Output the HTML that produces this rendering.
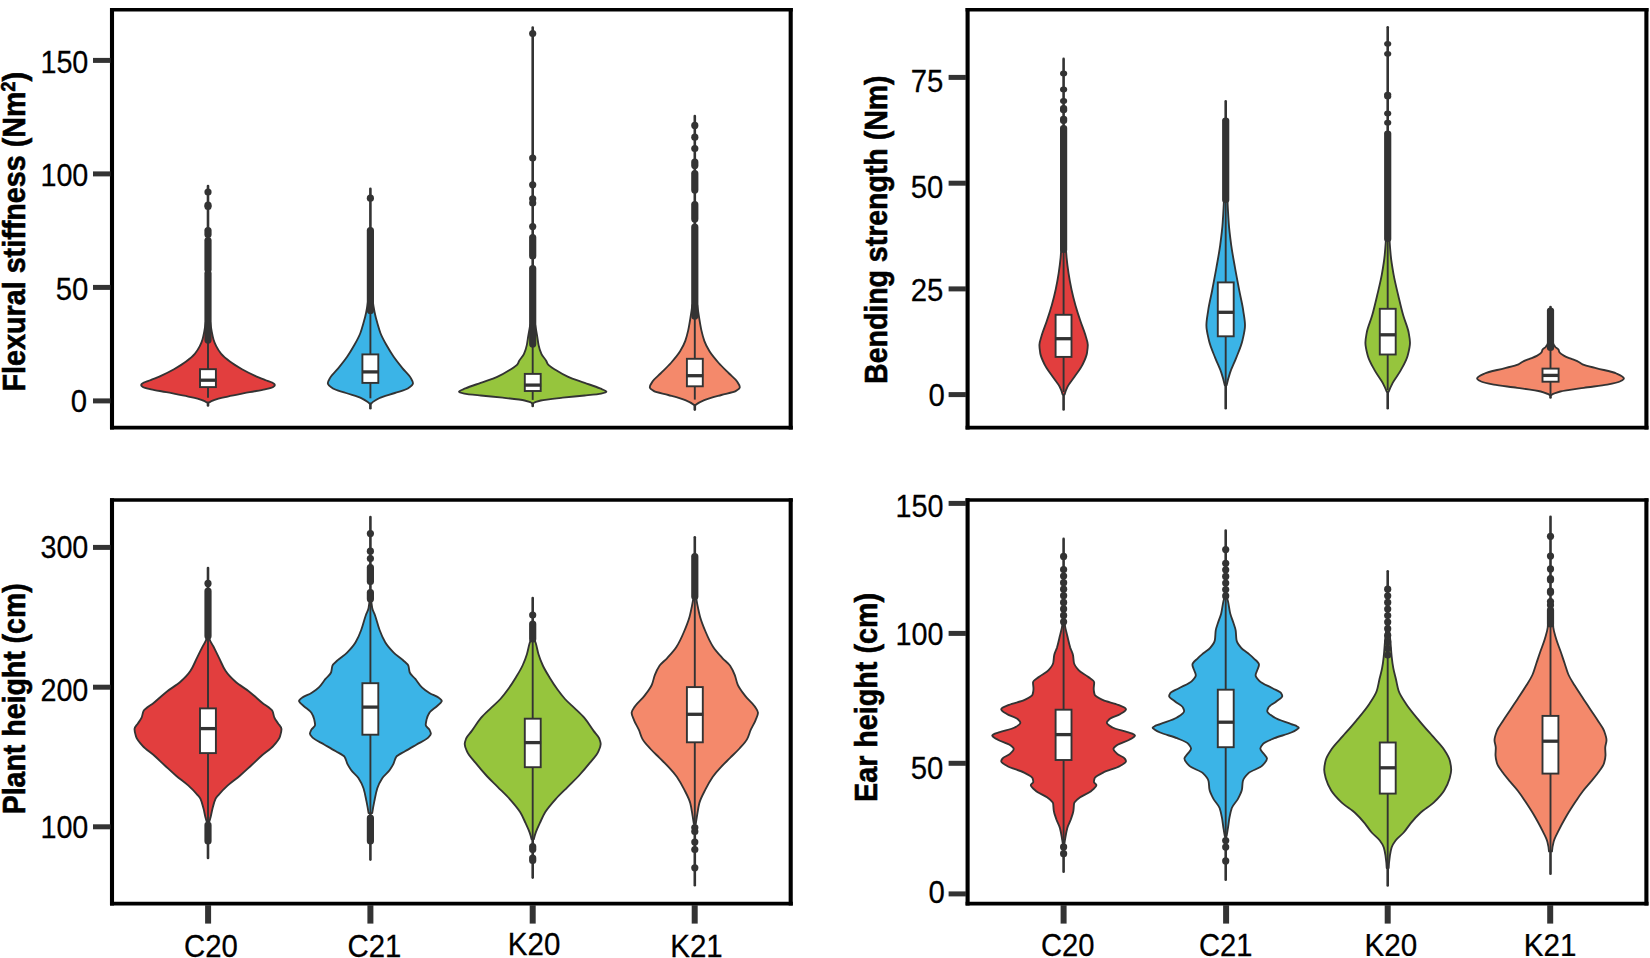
<!DOCTYPE html>
<html lang="en"><head><meta charset="utf-8"><title>Violin plots</title>
<style>
html,body{margin:0;padding:0;background:#fff;}
body{width:1650px;height:958px;overflow:hidden;}
svg{display:block;}
.tk{font-family:"Liberation Sans",Arial,Helvetica,sans-serif;fill:#000;stroke:#000;stroke-width:0.25px;}
.tt{font-family:"Liberation Sans",Arial,Helvetica,sans-serif;font-size:31.5px;font-weight:700;fill:#000;stroke:#000;stroke-width:0.6px;}
</style></head>
<body>
<svg width="1650" height="958" viewBox="0 0 1650 958">
<rect width="1650" height="958" fill="#fff"/>
<g>
<g><line x1="208" y1="186" x2="208" y2="405.5" stroke="#333333" stroke-width="2.6" stroke-linecap="round"/>
<path d="M210.2 322C210.6 325.3 211.2 328.6 211.8 331.9C212.3 334.5 212.8 337 213.5 339.6C214.1 341.8 215.1 344 216.2 346.2C217.5 348.8 219.1 351.3 221.2 353.9C223.3 356.4 226.5 359 229.9 361.5C233.3 364.1 237.5 366.6 242 369.2C245.9 371.4 250.3 373.6 255.1 375.8C258.5 377.4 262.5 378.9 266.5 380.5C268.5 381.3 271.5 382 272.6 382.8C273.7 383.5 274.9 384.3 274.9 385C274.9 385.7 273.9 386.5 272.8 387.2C271.7 387.9 268 388.6 265 389.3C260.8 390.3 254.7 391.2 249.7 392.2C242.2 393.7 234.2 395.1 227.7 396.6C222.9 397.7 217.6 398.8 214.6 399.9C212.3 400.7 210.3 401.6 209.2 402.4L206.8 402.4C205.7 401.6 203.7 400.7 201.4 399.9C198.4 398.8 193.1 397.7 188.3 396.6C181.8 395.1 173.8 393.7 166.3 392.2C161.3 391.2 155.2 390.3 151 389.3C148 388.6 144.3 387.9 143.2 387.2C142.1 386.5 141.1 385.7 141.1 385C141.1 384.3 142.3 383.5 143.4 382.8C144.5 382 147.5 381.3 149.5 380.5C153.5 378.9 157.5 377.4 160.9 375.8C165.7 373.6 170.1 371.4 174 369.2C178.5 366.6 182.7 364.1 186.1 361.5C189.5 359 192.7 356.4 194.8 353.9C196.9 351.3 198.5 348.8 199.8 346.2C200.9 344 201.9 341.8 202.5 339.6C203.2 337 203.7 334.5 204.2 331.9C204.8 328.6 205.4 325.3 205.8 322Z" fill="#E23E3E" stroke="#333333" stroke-width="1.85" stroke-linejoin="round"/>
<line x1="208" y1="322" x2="208" y2="397.7" stroke="#333333" stroke-width="1.9"/>
<ellipse cx="208" cy="192" rx="3.6" ry="3.6" fill="#333333"/>
<ellipse cx="208" cy="205" rx="3.6" ry="3.6" fill="#333333"/>
<ellipse cx="208" cy="206.5" rx="3.6" ry="3.6" fill="#333333"/>
<rect x="204.4" y="226.9" width="7.2" height="11.2" rx="3.6" ry="3.6" fill="#333333"/>
<rect x="204.4" y="236.9" width="7.2" height="36.2" rx="3.6" ry="3.6" fill="#333333"/>
<rect x="204.4" y="269.9" width="7.2" height="73.7" rx="3.6" ry="3.6" fill="#333333"/>
<rect x="200" y="369.2" width="15.9" height="17.9" fill="#fff" stroke="#333333" stroke-width="1.9"/>
<line x1="199.6" y1="380.2" x2="216.4" y2="380.2" stroke="#333333" stroke-width="3.3"/></g>
<g><line x1="370.4" y1="188.8" x2="370.4" y2="408.3" stroke="#333333" stroke-width="2.6" stroke-linecap="round"/>
<path d="M372.6 300C373.1 304.1 373.8 308.1 374.6 312.2C375.3 315.7 376.2 319.1 377.2 322.6C378.2 326.1 379.1 329.5 380.4 333C381.9 336.9 384.1 340.9 386.3 344.8C388.5 348.7 390.8 352.6 393.5 356.5C396.2 360.4 399.4 364.4 402.6 368.3C405.1 371.3 408.7 374.4 410.4 377.4C411.5 379.4 413 381.3 413 383.3C413 385 410.4 386.8 407.8 388.5C405.5 390 399.2 391.5 394.8 393C389.6 394.8 382.6 396.5 379.1 398.3C375.7 400 372.7 401.8 371.4 403.5L369.4 403.5C368.1 401.8 365.1 400 361.7 398.3C358.2 396.5 351.2 394.8 346 393C341.6 391.5 335.3 390 333 388.5C330.4 386.8 327.8 385 327.8 383.3C327.8 381.3 329.3 379.4 330.4 377.4C332.1 374.4 335.7 371.3 338.2 368.3C341.4 364.4 344.6 360.4 347.3 356.5C350 352.6 352.3 348.7 354.5 344.8C356.7 340.9 358.9 336.9 360.4 333C361.7 329.5 362.6 326.1 363.6 322.6C364.6 319.1 365.5 315.7 366.2 312.2C367 308.1 367.7 304.1 368.2 300Z" fill="#3BB4E7" stroke="#333333" stroke-width="1.85" stroke-linejoin="round"/>
<line x1="370.4" y1="300" x2="370.4" y2="398.3" stroke="#333333" stroke-width="1.9"/>
<ellipse cx="370.4" cy="198.2" rx="3.6" ry="3.6" fill="#333333"/>
<rect x="366.8" y="226.9" width="7.2" height="87.2" rx="3.6" ry="3.6" fill="#333333"/>
<rect x="362.4" y="354.4" width="15.9" height="28.5" fill="#fff" stroke="#333333" stroke-width="1.9"/>
<line x1="362" y1="371.9" x2="378.8" y2="371.9" stroke="#333333" stroke-width="3.3"/></g>
<g><line x1="532.7" y1="27.6" x2="532.7" y2="406" stroke="#333333" stroke-width="2.6" stroke-linecap="round"/>
<path d="M535.2 325C535.8 328.4 536.4 331.8 537 335.2C537.6 338.5 537.9 341.8 538.6 345.1C539.2 348 540.1 351 541.4 353.9C542.4 356.3 545 358.6 546.3 361C546.9 362.1 547.1 363.2 547.9 364.3C549.3 366.3 553.1 368.3 556.2 370.3C559.6 372.5 563.4 374.7 568.2 376.9C572.6 378.9 579.2 380.9 584.7 382.9C589.8 384.7 595.9 386.6 600 388.4C602.5 389.5 606.4 390.6 606.4 391.7C606.4 392.3 603.8 393 601.1 393.6C598.4 394.2 590.6 394.9 584.7 395.5C577.9 396.2 569.2 397 562.7 397.7C554.5 398.6 544.5 399.6 540.8 400.5C537.3 401.4 533.8 402.3 533.7 403.2L531.7 403.2C531.6 402.3 528.1 401.4 524.6 400.5C520.9 399.6 510.9 398.6 502.7 397.7C496.2 397 487.5 396.2 480.7 395.5C474.8 394.9 467 394.2 464.3 393.6C461.6 393 459 392.3 459 391.7C459 390.6 462.9 389.5 465.4 388.4C469.5 386.6 475.6 384.7 480.7 382.9C486.2 380.9 492.8 378.9 497.2 376.9C502 374.7 505.8 372.5 509.2 370.3C512.3 368.3 516.1 366.3 517.5 364.3C518.3 363.2 518.5 362.1 519.1 361C520.4 358.6 523 356.3 524 353.9C525.3 351 526.2 348 526.8 345.1C527.5 341.8 527.8 338.5 528.4 335.2C529 331.8 529.6 328.4 530.2 325Z" fill="#96C53D" stroke="#333333" stroke-width="1.85" stroke-linejoin="round"/>
<line x1="532.7" y1="325" x2="532.7" y2="399.9" stroke="#333333" stroke-width="1.9"/>
<ellipse cx="532.7" cy="33.5" rx="3.6" ry="3.6" fill="#333333"/>
<ellipse cx="532.7" cy="158" rx="3.6" ry="3.6" fill="#333333"/>
<ellipse cx="532.7" cy="184.8" rx="3.6" ry="3.6" fill="#333333"/>
<ellipse cx="532.7" cy="198.8" rx="3.6" ry="3.6" fill="#333333"/>
<ellipse cx="532.7" cy="203" rx="3.6" ry="3.6" fill="#333333"/>
<ellipse cx="532.7" cy="226.6" rx="3.6" ry="3.6" fill="#333333"/>
<rect x="529.1" y="233.9" width="7.2" height="25.7" rx="3.6" ry="3.6" fill="#333333"/>
<rect x="529.1" y="264.9" width="7.2" height="82.7" rx="3.6" ry="3.6" fill="#333333"/>
<rect x="524.8" y="373.9" width="15.9" height="17.1" fill="#fff" stroke="#333333" stroke-width="1.9"/>
<line x1="524.3" y1="385.1" x2="541.1" y2="385.1" stroke="#333333" stroke-width="3.3"/></g>
<g><line x1="694.8" y1="116" x2="694.8" y2="409.6" stroke="#333333" stroke-width="2.6" stroke-linecap="round"/>
<path d="M697.3 305C697.8 309.1 698.4 313.3 699.1 317.4C699.8 321.7 700.5 326.1 701.4 330.4C702.2 333.9 703.1 337.4 704.3 340.9C705.5 344.4 707.4 347.8 709.5 351.3C711.9 355.2 715.3 359.1 718.7 363C721.8 366.5 725.6 370 729.1 373.5C731.7 376.1 735.2 378.7 736.9 381.3C738.2 383.3 739.8 385.2 739.8 387.2C739.8 388.5 737.8 389.8 735.6 391.1C733.4 392.4 725.8 393.7 721.3 395C715.3 396.7 708.4 398.5 704.3 400.2C700.7 401.7 697.6 403.3 695.8 404.8L693.8 404.8C692 403.3 688.9 401.7 685.3 400.2C681.2 398.5 674.3 396.7 668.3 395C663.8 393.7 656.2 392.4 654 391.1C651.8 389.8 649.8 388.5 649.8 387.2C649.8 385.2 651.4 383.3 652.7 381.3C654.4 378.7 657.9 376.1 660.5 373.5C664 370 667.8 366.5 670.9 363C674.3 359.1 677.7 355.2 680.1 351.3C682.2 347.8 684.1 344.4 685.3 340.9C686.5 337.4 687.4 333.9 688.2 330.4C689.1 326.1 689.8 321.7 690.5 317.4C691.2 313.3 691.8 309.1 692.3 305Z" fill="#F4896B" stroke="#333333" stroke-width="1.85" stroke-linejoin="round"/>
<line x1="694.8" y1="305" x2="694.8" y2="399.6" stroke="#333333" stroke-width="1.9"/>
<ellipse cx="694.8" cy="125.4" rx="3.6" ry="3.6" fill="#333333"/>
<ellipse cx="694.8" cy="137.2" rx="3.6" ry="3.6" fill="#333333"/>
<ellipse cx="694.8" cy="148.5" rx="3.6" ry="3.6" fill="#333333"/>
<rect x="691.2" y="158.4" width="7.2" height="10.7" rx="3.6" ry="3.6" fill="#333333"/>
<rect x="691.2" y="169.9" width="7.2" height="23.7" rx="3.6" ry="3.6" fill="#333333"/>
<rect x="691.2" y="200.9" width="7.2" height="21.7" rx="3.6" ry="3.6" fill="#333333"/>
<rect x="691.2" y="223.4" width="7.2" height="96.2" rx="3.6" ry="3.6" fill="#333333"/>
<rect x="686.9" y="358.8" width="15.9" height="27.5" fill="#fff" stroke="#333333" stroke-width="1.9"/>
<line x1="686.4" y1="375.7" x2="703.2" y2="375.7" stroke="#333333" stroke-width="3.3"/></g>
<path d="M112 7.9V429.4M790.7 7.9V429.4" fill="none" stroke="#000" stroke-width="4.1"/>
<path d="M110 9.7H792.8M110 427.6H792.8" fill="none" stroke="#000" stroke-width="3.6"/>
<line x1="93" y1="60.4" x2="110.5" y2="60.4" stroke="#333333" stroke-width="5"/>
<text class="tk" font-size="30.5" transform="translate(40.4 73.2) scale(0.943 1)">150</text>
<line x1="93" y1="173.9" x2="110.5" y2="173.9" stroke="#333333" stroke-width="5"/>
<text class="tk" font-size="30.5" transform="translate(40.4 186.3) scale(0.943 1)">100</text>
<line x1="93" y1="287.4" x2="110.5" y2="287.4" stroke="#333333" stroke-width="5"/>
<text class="tk" font-size="30.5" transform="translate(55.7 299.7) scale(0.962 1)">50</text>
<line x1="93" y1="400.9" x2="110.5" y2="400.9" stroke="#333333" stroke-width="5"/>
<text class="tk" font-size="30.5" transform="translate(70.8 411.6) scale(0.962 1)">0</text>
<text class="tt" transform="translate(24.9 391.5) rotate(-90)" textLength="319.6" lengthAdjust="spacingAndGlyphs">Flexural stiffness (Nm<tspan dy="-10.4" font-size="19.5">2</tspan><tspan dy="10.4">)</tspan></text>
</g>
<g>
<g><line x1="1063.6" y1="58.9" x2="1063.6" y2="409.5" stroke="#333333" stroke-width="2.6" stroke-linecap="round"/>
<path d="M1065.4 240C1065.6 245.9 1066.1 251.9 1066.6 257.8C1067.1 263.1 1067.8 268.3 1068.6 273.6C1069.4 278.9 1070.4 284.2 1071.5 289.5C1072.6 294.8 1074 300.1 1075.5 305.4C1077 310.7 1078.7 315.9 1080.5 321.2C1082 325.8 1084.1 330.5 1085.4 335.1C1086.3 338.4 1087.8 341.7 1087.8 345C1087.8 347.7 1087.4 350.3 1087 353C1086.4 357 1084.3 360.9 1082.4 364.9C1080.5 368.9 1077.2 372.8 1074.5 376.8C1072.3 380.1 1069.2 383.4 1067.6 386.7C1066.3 389.3 1065.2 392 1064.6 394.6L1062.6 394.6C1062 392 1060.9 389.3 1059.6 386.7C1058 383.4 1054.9 380.1 1052.7 376.8C1050 372.8 1046.7 368.9 1044.8 364.9C1042.9 360.9 1040.8 357 1040.2 353C1039.8 350.3 1039.4 347.7 1039.4 345C1039.4 341.7 1040.9 338.4 1041.8 335.1C1043.1 330.5 1045.2 325.8 1046.7 321.2C1048.5 315.9 1050.2 310.7 1051.7 305.4C1053.2 300.1 1054.6 294.8 1055.7 289.5C1056.8 284.2 1057.8 278.9 1058.6 273.6C1059.4 268.3 1060.1 263.1 1060.6 257.8C1061.1 251.9 1061.6 245.9 1061.8 240Z" fill="#E23E3E" stroke="#333333" stroke-width="1.85" stroke-linejoin="round"/>
<line x1="1063.6" y1="240" x2="1063.6" y2="392" stroke="#333333" stroke-width="1.9"/>
<ellipse cx="1063.6" cy="73.4" rx="3.6" ry="2.9" fill="#333333"/>
<ellipse cx="1063.6" cy="89.4" rx="3.6" ry="2.9" fill="#333333"/>
<ellipse cx="1063.6" cy="100.9" rx="3.6" ry="2.9" fill="#333333"/>
<rect x="1060" y="105" width="7.2" height="8.2" rx="3.6" ry="2.9" fill="#333333"/>
<rect x="1060" y="115.7" width="7.2" height="8.2" rx="3.6" ry="2.9" fill="#333333"/>
<rect x="1060" y="125" width="7.2" height="127.9" rx="3.6" ry="2.9" fill="#333333"/>
<rect x="1055.6" y="314.8" width="15.9" height="42.1" fill="#fff" stroke="#333333" stroke-width="1.9"/>
<line x1="1055.2" y1="338.7" x2="1072" y2="338.7" stroke="#333333" stroke-width="3.3"/></g>
<g><line x1="1225.7" y1="101.4" x2="1225.7" y2="408.2" stroke="#333333" stroke-width="2.6" stroke-linecap="round"/>
<path d="M1227.5 200C1227.7 207.5 1228.2 215.1 1228.7 222.6C1229.2 230.1 1230.2 237.6 1231.2 245.1C1232.2 252.6 1233.7 260.2 1235 267.7C1236.3 275.2 1237.8 282.7 1239.2 290.2C1240.5 296.9 1242.2 303.6 1243.2 310.3C1243.9 315.3 1245 320.3 1245 325.3C1245 330.3 1243.6 335.3 1242.5 340.3C1241.2 346.2 1238.5 352 1236.2 357.9C1234.3 362.9 1231.6 367.9 1230 372.9C1228.6 377.1 1227.5 381.2 1226.6 385.4L1224.8 385.4C1223.9 381.2 1222.8 377.1 1221.4 372.9C1219.8 367.9 1217.1 362.9 1215.2 357.9C1212.9 352 1210.2 346.2 1208.9 340.3C1207.8 335.3 1206.4 330.3 1206.4 325.3C1206.4 320.3 1207.5 315.3 1208.2 310.3C1209.2 303.6 1210.9 296.9 1212.2 290.2C1213.6 282.7 1215.1 275.2 1216.4 267.7C1217.7 260.2 1219.2 252.6 1220.2 245.1C1221.2 237.6 1222.2 230.1 1222.7 222.6C1223.2 215.1 1223.7 207.5 1223.9 200Z" fill="#3BB4E7" stroke="#333333" stroke-width="1.85" stroke-linejoin="round"/>
<line x1="1225.7" y1="200" x2="1225.7" y2="385" stroke="#333333" stroke-width="1.9"/>
<rect x="1222.1" y="117.6" width="7.2" height="85.3" rx="3.6" ry="2.9" fill="#333333"/>
<rect x="1217.8" y="282.4" width="15.9" height="53.9" fill="#fff" stroke="#333333" stroke-width="1.9"/>
<line x1="1217.3" y1="312.3" x2="1234.1" y2="312.3" stroke="#333333" stroke-width="3.3"/></g>
<g><line x1="1387.7" y1="27.3" x2="1387.7" y2="408.2" stroke="#333333" stroke-width="2.6" stroke-linecap="round"/>
<path d="M1389.3 235C1389.5 241.7 1390.1 248.5 1390.7 255.2C1391.3 261.9 1392.5 268.5 1393.7 275.2C1394.9 281.9 1396.6 288.5 1398.2 295.2C1399.8 301.9 1401.3 308.6 1403.2 315.3C1404.8 321.1 1407.7 327 1408.7 332.8C1409.3 336.1 1410 339.5 1410 342.8C1410 347 1408.8 351.2 1407.7 355.4C1406.4 360.4 1403.4 365.4 1400.7 370.4C1398.4 374.6 1394.9 378.7 1392.7 382.9C1391.2 385.8 1389.8 388.8 1388.7 391.7L1386.7 391.7C1385.6 388.8 1384.2 385.8 1382.7 382.9C1380.5 378.7 1377 374.6 1374.7 370.4C1372 365.4 1369 360.4 1367.7 355.4C1366.6 351.2 1365.4 347 1365.4 342.8C1365.4 339.5 1366.1 336.1 1366.7 332.8C1367.7 327 1370.6 321.1 1372.2 315.3C1374.1 308.6 1375.6 301.9 1377.2 295.2C1378.8 288.5 1380.5 281.9 1381.7 275.2C1382.9 268.5 1384.1 261.9 1384.7 255.2C1385.3 248.5 1385.9 241.7 1386.1 235Z" fill="#96C53D" stroke="#333333" stroke-width="1.85" stroke-linejoin="round"/>
<line x1="1387.7" y1="235" x2="1387.7" y2="390" stroke="#333333" stroke-width="1.9"/>
<ellipse cx="1387.7" cy="43.8" rx="3.6" ry="2.9" fill="#333333"/>
<ellipse cx="1387.7" cy="53.8" rx="3.6" ry="2.9" fill="#333333"/>
<ellipse cx="1387.7" cy="94.6" rx="3.6" ry="2.9" fill="#333333"/>
<ellipse cx="1387.7" cy="96.4" rx="3.6" ry="2.9" fill="#333333"/>
<ellipse cx="1387.7" cy="113.4" rx="3.6" ry="2.9" fill="#333333"/>
<ellipse cx="1387.7" cy="122.7" rx="3.6" ry="2.9" fill="#333333"/>
<rect x="1384.1" y="130.6" width="7.2" height="111.3" rx="3.6" ry="2.9" fill="#333333"/>
<rect x="1379.8" y="308.8" width="15.9" height="45.7" fill="#fff" stroke="#333333" stroke-width="1.9"/>
<line x1="1379.3" y1="334.8" x2="1396.1" y2="334.8" stroke="#333333" stroke-width="3.3"/></g>
<g><line x1="1550.5" y1="307" x2="1550.5" y2="397.5" stroke="#333333" stroke-width="2.6" stroke-linecap="round"/>
<path d="M1553 343C1553.2 344.2 1554.1 345.5 1555.1 346.7C1555.8 347.6 1557.8 348.4 1558.3 349.3C1559 350.4 1558.9 351.5 1559.6 352.6C1560.3 353.7 1562.2 354.8 1564.2 355.9C1566.1 357 1569.3 358 1572 359.1C1573.7 359.8 1575.8 360.4 1577.2 361.1C1579.4 362.2 1580.1 363.2 1582.5 364.3C1585.5 365.6 1591.9 367 1596.8 368.3C1603.2 370 1612.6 371.8 1616.4 373.5C1619.9 375.1 1623.9 376.8 1623.9 378.4C1623.9 379.4 1622.1 380.3 1620.3 381.3C1618.2 382.4 1612.9 383.5 1607.2 384.6C1601.7 385.7 1591.1 386.7 1583.8 387.8C1575.4 389 1564.7 390.3 1560.3 391.5C1556.1 392.7 1552.3 393.8 1551.5 395L1549.5 395C1548.7 393.8 1544.9 392.7 1540.7 391.5C1536.3 390.3 1525.6 389 1517.2 387.8C1509.9 386.7 1499.3 385.7 1493.8 384.6C1488.1 383.5 1482.8 382.4 1480.7 381.3C1478.9 380.3 1477.1 379.4 1477.1 378.4C1477.1 376.8 1481.1 375.1 1484.6 373.5C1488.4 371.8 1497.8 370 1504.2 368.3C1509.1 367 1515.5 365.6 1518.5 364.3C1520.9 363.2 1521.6 362.2 1523.8 361.1C1525.2 360.4 1527.3 359.8 1529 359.1C1531.7 358 1534.9 357 1536.8 355.9C1538.8 354.8 1540.7 353.7 1541.4 352.6C1542.1 351.5 1542 350.4 1542.7 349.3C1543.2 348.4 1545.2 347.6 1545.9 346.7C1546.9 345.5 1547.8 344.2 1548 343Z" fill="#F4896B" stroke="#333333" stroke-width="1.85" stroke-linejoin="round"/>
<line x1="1550.5" y1="343" x2="1550.5" y2="394" stroke="#333333" stroke-width="1.9"/>
<rect x="1546.9" y="307.6" width="7.2" height="43.3" rx="3.6" ry="2.9" fill="#333333"/>
<rect x="1542.5" y="368.6" width="16.1" height="13.1" fill="#fff" stroke="#333333" stroke-width="1.9"/>
<line x1="1542" y1="375.4" x2="1559" y2="375.4" stroke="#333333" stroke-width="3.3"/></g>
<path d="M967.6 7.9V429.4M1646.4 7.9V429.4" fill="none" stroke="#000" stroke-width="4.1"/>
<path d="M965.6 9.7H1648.5M965.6 427.6H1648.5" fill="none" stroke="#000" stroke-width="3.6"/>
<line x1="948.6" y1="77.4" x2="966.1" y2="77.4" stroke="#333333" stroke-width="5"/>
<text class="tk" font-size="30.5" transform="translate(910.8 91.8) scale(0.962 1)">75</text>
<line x1="948.6" y1="183.2" x2="966.1" y2="183.2" stroke="#333333" stroke-width="5"/>
<text class="tk" font-size="30.5" transform="translate(910.8 198) scale(0.962 1)">50</text>
<line x1="948.6" y1="288.9" x2="966.1" y2="288.9" stroke="#333333" stroke-width="5"/>
<text class="tk" font-size="30.5" transform="translate(910.8 301.4) scale(0.962 1)">25</text>
<line x1="948.6" y1="394.6" x2="966.1" y2="394.6" stroke="#333333" stroke-width="5"/>
<text class="tk" font-size="30.5" transform="translate(928.4 405.5) scale(0.962 1)">0</text>
<text class="tt" transform="translate(887 383.9) rotate(-90)" textLength="308.4" lengthAdjust="spacingAndGlyphs">Bending strength (Nm)</text>
</g>
<g>
<g><line x1="208" y1="568" x2="208" y2="858" stroke="#333333" stroke-width="2.6" stroke-linecap="round"/>
<path d="M208.9 634C208.9 635.6 209.2 637.2 209.5 638.8C210 641.3 212 643.8 213.3 646.3C215.2 650.1 217 653.8 218.9 657.6C221.1 662 222.6 666.4 225.5 670.8C227.9 674.5 231.6 678.3 235.8 682C239.3 685.1 245 688.3 249 691.4C253.8 695.2 257.6 698.9 262.1 702.7C265.5 705.5 271.2 708.4 272.5 711.2C273.5 713.4 273.5 715.5 274.4 717.7C275.2 719.6 276.9 721.5 278.1 723.4C279.3 725.3 281.5 727.1 281.5 729C281.5 731.5 280.8 734 280 736.5C279 739.6 276.2 742.8 273.4 745.9C270.6 749 265.7 752.2 262.1 755.3C258.2 758.8 254.7 762.2 250.9 765.7C247.2 769.1 243.6 772.6 239.6 776C235.9 779.1 231.2 782.3 227.8 785.4C224.4 788.5 221.3 791.7 218.6 794.8C217.5 796.1 216.1 797.5 215.5 798.8C213.9 802.2 213.3 805.5 212.4 808.9C211.7 811.8 211.2 814.7 210.5 817.6C210.1 819.1 209.7 820.5 209.2 822L206.8 822C206.3 820.5 205.9 819.1 205.5 817.6C204.8 814.7 204.3 811.8 203.6 808.9C202.7 805.5 202.1 802.2 200.5 798.8C199.9 797.5 198.5 796.1 197.4 794.8C194.7 791.7 191.6 788.5 188.2 785.4C184.8 782.3 180.1 779.1 176.4 776C172.4 772.6 168.8 769.1 165.1 765.7C161.3 762.2 157.8 758.8 153.9 755.3C150.3 752.2 145.4 749 142.6 745.9C139.8 742.8 137 739.6 136 736.5C135.2 734 134.5 731.5 134.5 729C134.5 727.1 136.7 725.3 137.9 723.4C139.1 721.5 140.8 719.6 141.6 717.7C142.5 715.5 142.5 713.4 143.5 711.2C144.8 708.4 150.5 705.5 153.9 702.7C158.4 698.9 162.2 695.2 167 691.4C171 688.3 176.7 685.1 180.2 682C184.4 678.3 188.1 674.5 190.5 670.8C193.4 666.4 194.9 662 197.1 657.6C199 653.8 200.8 650.1 202.7 646.3C204 643.8 206 641.3 206.5 638.8C206.8 637.2 207.1 635.6 207.1 634Z" fill="#E23E3E" stroke="#333333" stroke-width="1.85" stroke-linejoin="round"/>
<line x1="208" y1="634" x2="208" y2="822" stroke="#333333" stroke-width="1.9"/>
<ellipse cx="208" cy="583.4" rx="3.6" ry="3.6" fill="#333333"/>
<rect x="204.4" y="587.4" width="7.2" height="52.2" rx="3.6" ry="3.6" fill="#333333"/>
<rect x="204.4" y="821.4" width="7.2" height="23.2" rx="3.6" ry="3.6" fill="#333333"/>
<rect x="200" y="708.4" width="15.9" height="44.7" fill="#fff" stroke="#333333" stroke-width="1.9"/>
<line x1="199.6" y1="728.6" x2="216.4" y2="728.6" stroke="#333333" stroke-width="3.3"/></g>
<g><line x1="370.4" y1="517.1" x2="370.4" y2="859.6" stroke="#333333" stroke-width="2.6" stroke-linecap="round"/>
<path d="M371.3 600C371.3 602.7 371.7 605.3 372.2 608C372.6 610.3 374.1 612.7 374.9 615C376.7 620 377.7 625 379.6 630C381.1 634.1 382.8 638.2 385.2 642.3C387.2 645.7 390.3 649.2 393.7 652.6C396.2 655.1 400.4 657.7 403.1 660.2C405.1 662.1 407.8 663.9 408.4 665.8C409.1 668 409 670.2 409.7 672.4C410.4 674.6 413.5 676.7 415.3 678.9C417.6 681.7 419.1 684.6 421.9 687.4C423.8 689.3 426.4 691.1 429.4 693C431.9 694.6 436.7 696.1 438.8 697.7C439.8 698.4 440.6 699.1 441.1 699.8C441.4 700.2 441.8 700.7 441.8 701.1C441.8 701.6 441.2 702.1 440.8 702.6C439.8 703.8 438.2 705 436.9 706.2C434.5 708.4 430.8 710.6 429.4 712.8C428 715 427.1 717.2 426.6 719.4C426.2 721.3 425.7 723.1 425.7 725C425.7 726.6 428.6 728.1 429.4 729.7C430.1 731.1 430.9 732.4 430.9 733.8C430.9 735.3 429 736.7 427.5 738.2C425.2 740.4 420 742.5 416.3 744.7C412.5 746.9 408.6 749.1 405 751.3C402 753.1 397.5 755 396.3 756.8C394.7 759.2 394.5 761.7 393.3 764.1C392.3 766.1 391.1 768 389.7 770C387.8 772.7 384.1 775.3 382.4 778C380.2 781.4 378.4 784.8 377.3 788.2C375.9 792.6 375.2 797 374.3 801.4C373.5 805.3 372.8 809.2 372.2 813.1L368.6 813.1C368 809.2 367.3 805.3 366.5 801.4C365.6 797 364.9 792.6 363.5 788.2C362.4 784.8 360.6 781.4 358.4 778C356.7 775.3 353 772.7 351.1 770C349.7 768 348.5 766.1 347.5 764.1C346.3 761.7 346.1 759.2 344.5 756.8C343.3 755 338.8 753.1 335.8 751.3C332.2 749.1 328.3 746.9 324.5 744.7C320.8 742.5 315.6 740.4 313.3 738.2C311.8 736.7 309.9 735.3 309.9 733.8C309.9 732.4 310.7 731.1 311.4 729.7C312.2 728.1 315.1 726.6 315.1 725C315.1 723.1 314.6 721.3 314.2 719.4C313.7 717.2 312.8 715 311.4 712.8C310 710.6 306.3 708.4 303.9 706.2C302.6 705 301 703.8 300 702.6C299.6 702.1 299 701.6 299 701.1C299 700.7 299.4 700.2 299.7 699.8C300.2 699.1 301 698.4 302 697.7C304.1 696.1 308.9 694.6 311.4 693C314.4 691.1 317 689.3 318.9 687.4C321.7 684.6 323.2 681.7 325.5 678.9C327.3 676.7 330.4 674.6 331.1 672.4C331.8 670.2 331.7 668 332.4 665.8C333 663.9 335.7 662.1 337.7 660.2C340.4 657.7 344.6 655.1 347.1 652.6C350.5 649.2 353.6 645.7 355.6 642.3C358 638.2 359.7 634.1 361.2 630C363.1 625 364.1 620 365.9 615C366.7 612.7 368.2 610.3 368.6 608C369.1 605.3 369.5 602.7 369.5 600Z" fill="#3BB4E7" stroke="#333333" stroke-width="1.85" stroke-linejoin="round"/>
<line x1="370.4" y1="600" x2="370.4" y2="814" stroke="#333333" stroke-width="1.9"/>
<ellipse cx="370.4" cy="533.6" rx="3.6" ry="3.6" fill="#333333"/>
<ellipse cx="370.4" cy="551.2" rx="3.6" ry="3.6" fill="#333333"/>
<ellipse cx="370.4" cy="558.5" rx="3.6" ry="3.6" fill="#333333"/>
<rect x="366.8" y="563.9" width="7.2" height="21.2" rx="3.6" ry="3.6" fill="#333333"/>
<rect x="366.8" y="588.9" width="7.2" height="13.7" rx="3.6" ry="3.6" fill="#333333"/>
<rect x="366.8" y="814.4" width="7.2" height="30.2" rx="3.6" ry="3.6" fill="#333333"/>
<rect x="362.4" y="683.2" width="15.9" height="51.5" fill="#fff" stroke="#333333" stroke-width="1.9"/>
<line x1="362" y1="707.1" x2="378.8" y2="707.1" stroke="#333333" stroke-width="3.3"/></g>
<g><line x1="532.7" y1="598.1" x2="532.7" y2="877.6" stroke="#333333" stroke-width="2.6" stroke-linecap="round"/>
<path d="M533.7 638C534.5 639.8 535.2 641.5 535.8 643.3C536.9 646.9 537.4 650.6 538.5 654.2C539.6 657.8 541 661.4 542.6 665C544.4 669.1 546.9 673.1 549.4 677.2C551.9 681.3 554.5 685.4 557.5 689.5C559.8 692.7 562.1 695.8 565 699C567.8 702.1 571.6 705.2 574.8 708.3C578 711.4 581.6 714.6 584.2 717.7C587.9 722.1 590.4 726.5 593.6 730.9C595.4 733.4 598.2 735.9 599.2 738.4C599.9 740.3 600.7 742.2 600.7 744.1C600.7 746.6 599.4 749.1 598.3 751.6C596.7 755.4 592.8 759.1 589.8 762.9C586.3 767.3 582.6 771.6 578.6 776C575.1 779.8 571 783.5 567.3 787.3C563.6 791 559.5 794.8 556.2 798.5C552.2 803 548.1 807.6 545.3 812.1C543.1 815.7 541.6 819.3 539.9 822.9C538.4 826.1 536.9 829.2 535.8 832.4C535 834.7 534.3 836.9 533.8 839.2L531.6 839.2C531.1 836.9 530.4 834.7 529.6 832.4C528.5 829.2 527 826.1 525.5 822.9C523.8 819.3 522.3 815.7 520.1 812.1C517.3 807.6 513.2 803 509.2 798.5C505.9 794.8 501.8 791 498.1 787.3C494.4 783.5 490.3 779.8 486.8 776C482.8 771.6 479.1 767.3 475.6 762.9C472.6 759.1 468.7 755.4 467.1 751.6C466 749.1 464.7 746.6 464.7 744.1C464.7 742.2 465.5 740.3 466.2 738.4C467.2 735.9 470 733.4 471.8 730.9C475 726.5 477.5 722.1 481.2 717.7C483.8 714.6 487.4 711.4 490.6 708.3C493.8 705.2 497.6 702.1 500.4 699C503.3 695.8 505.6 692.7 507.9 689.5C510.9 685.4 513.5 681.3 516 677.2C518.5 673.1 521 669.1 522.8 665C524.4 661.4 525.8 657.8 526.9 654.2C528 650.6 528.5 646.9 529.6 643.3C530.2 641.5 530.9 639.8 531.7 638Z" fill="#96C53D" stroke="#333333" stroke-width="1.85" stroke-linejoin="round"/>
<line x1="532.7" y1="638" x2="532.7" y2="840" stroke="#333333" stroke-width="1.9"/>
<ellipse cx="532.7" cy="615" rx="3.6" ry="3.6" fill="#333333"/>
<rect x="529.1" y="620.4" width="7.2" height="22.2" rx="3.6" ry="3.6" fill="#333333"/>
<rect x="529.1" y="842.9" width="7.2" height="10.2" rx="3.6" ry="3.6" fill="#333333"/>
<rect x="529.1" y="854.4" width="7.2" height="9.7" rx="3.6" ry="3.6" fill="#333333"/>
<rect x="524.8" y="718.7" width="15.9" height="48.5" fill="#fff" stroke="#333333" stroke-width="1.9"/>
<line x1="524.3" y1="742.6" x2="541.1" y2="742.6" stroke="#333333" stroke-width="3.3"/></g>
<g><line x1="694.8" y1="537.3" x2="694.8" y2="885.3" stroke="#333333" stroke-width="2.6" stroke-linecap="round"/>
<path d="M695.8 596C696.2 598.6 696.7 601.2 697.2 603.8C698.1 608.2 698.9 612.5 700.1 616.9C701.5 621.9 703.6 627 705.7 632C707.8 637 710 642 713.2 647C715.6 650.8 719.2 654.5 722.6 658.3C724.9 660.8 728.4 663.3 730.1 665.8C732.2 668.9 733.6 672.1 734.8 675.2C736 678.3 736.4 681.5 737.7 684.6C739.3 688.4 742.3 692.1 745.2 695.9C747.8 699.3 752.4 702.8 754.6 706.2C756 708.4 758 710.6 758 712.8C758 715.3 756.5 717.8 755.5 720.3C754.3 723.4 752.2 726.6 750.8 729.7C749.4 732.8 748.8 736 747.1 739.1C745.4 742.2 742.3 745.4 739.5 748.5C736.7 751.6 733.2 754.8 730.1 757.9C727 761 723.6 764.2 720.7 767.3C717.8 770.4 715 773.6 712.8 776.7C709.9 780.9 707.7 785 705.6 789.2C703.2 793.9 700.5 798.6 699.3 803.3C698.2 807.5 697.7 811.6 697 815.8C696.6 818.4 696.2 821 695.8 823.6L693.8 823.6C693.4 821 693 818.4 692.6 815.8C691.9 811.6 691.4 807.5 690.3 803.3C689.1 798.6 686.4 793.9 684 789.2C681.9 785 679.7 780.9 676.8 776.7C674.6 773.6 671.8 770.4 668.9 767.3C666 764.2 662.6 761 659.5 757.9C656.4 754.8 652.9 751.6 650.1 748.5C647.3 745.4 644.2 742.2 642.5 739.1C640.8 736 640.2 732.8 638.8 729.7C637.4 726.6 635.3 723.4 634.1 720.3C633.1 717.8 631.6 715.3 631.6 712.8C631.6 710.6 633.6 708.4 635 706.2C637.2 702.8 641.8 699.3 644.4 695.9C647.3 692.1 650.3 688.4 651.9 684.6C653.2 681.5 653.6 678.3 654.8 675.2C656 672.1 657.4 668.9 659.5 665.8C661.2 663.3 664.7 660.8 667 658.3C670.4 654.5 674 650.8 676.4 647C679.6 642 681.8 637 683.9 632C686 627 688.1 621.9 689.5 616.9C690.7 612.5 691.5 608.2 692.4 603.8C692.9 601.2 693.4 598.6 693.8 596Z" fill="#F4896B" stroke="#333333" stroke-width="1.85" stroke-linejoin="round"/>
<line x1="694.8" y1="596" x2="694.8" y2="824" stroke="#333333" stroke-width="1.9"/>
<rect x="691.2" y="552.9" width="7.2" height="47.2" rx="3.6" ry="3.6" fill="#333333"/>
<ellipse cx="694.8" cy="827.5" rx="3.6" ry="3.6" fill="#333333"/>
<ellipse cx="694.8" cy="831.5" rx="3.6" ry="3.6" fill="#333333"/>
<ellipse cx="694.8" cy="842.1" rx="3.6" ry="3.6" fill="#333333"/>
<ellipse cx="694.8" cy="849.5" rx="3.6" ry="3.6" fill="#333333"/>
<ellipse cx="694.8" cy="867.8" rx="3.6" ry="3.6" fill="#333333"/>
<rect x="686.9" y="687.1" width="15.9" height="55.2" fill="#fff" stroke="#333333" stroke-width="1.9"/>
<line x1="686.4" y1="714.3" x2="703.2" y2="714.3" stroke="#333333" stroke-width="3.3"/></g>
<path d="M112 498.2V905.4M790.7 498.2V905.4" fill="none" stroke="#000" stroke-width="4.1"/>
<path d="M110 500H792.8M110 903.6H792.8" fill="none" stroke="#000" stroke-width="3.6"/>
<line x1="93" y1="547.4" x2="110.5" y2="547.4" stroke="#333333" stroke-width="5"/>
<text class="tk" font-size="30.5" transform="translate(40.4 558.1) scale(0.943 1)">300</text>
<line x1="93" y1="687.2" x2="110.5" y2="687.2" stroke="#333333" stroke-width="5"/>
<text class="tk" font-size="30.5" transform="translate(40.4 700.6) scale(0.943 1)">200</text>
<line x1="93" y1="826.8" x2="110.5" y2="826.8" stroke="#333333" stroke-width="5"/>
<text class="tk" font-size="30.5" transform="translate(40.4 838.1) scale(0.943 1)">100</text>
<line x1="208.1" y1="905.1" x2="208.1" y2="923.6" stroke="#333333" stroke-width="6"/>
<line x1="370.4" y1="905.1" x2="370.4" y2="923.6" stroke="#333333" stroke-width="6"/>
<line x1="532.7" y1="905.1" x2="532.7" y2="923.6" stroke="#333333" stroke-width="6"/>
<line x1="694.7" y1="905.1" x2="694.7" y2="923.6" stroke="#333333" stroke-width="6"/>
<text class="tk" font-size="30.5" transform="translate(184 957.3) scale(0.962 1)">C20</text>
<text class="tk" font-size="30.5" transform="translate(347.6 957.3) scale(0.962 1)">C21</text>
<text class="tk" font-size="30.5" transform="translate(507.8 954.5) scale(0.968 1)">K20</text>
<text class="tk" font-size="30.5" transform="translate(670.2 956.5) scale(0.968 1)">K21</text>
<text class="tt" transform="translate(25.4 814.3) rotate(-90)" textLength="231" lengthAdjust="spacingAndGlyphs">Plant height (cm)</text>
</g>
<g>
<g><line x1="1063.6" y1="538.9" x2="1063.6" y2="871.7" stroke="#333333" stroke-width="2.6" stroke-linecap="round"/>
<path d="M1064.5 620C1064.6 621.7 1064.7 623.3 1064.9 625C1065.3 628.8 1066.5 632.5 1067.4 636.3C1068.3 640.1 1069.1 643.8 1070.2 647.6C1071 650.1 1072.5 652.6 1073 655.1C1073.5 657.6 1073.4 660.1 1073.9 662.6C1074.4 665.1 1076.4 667.7 1078.6 670.2C1080.5 672.4 1085.3 674.5 1088 676.7C1090.4 678.6 1094.2 680.5 1094.2 682.4C1094.2 684.6 1093.7 686.7 1093.7 688.9C1093.7 690.8 1094.1 692.7 1094.6 694.6C1095.1 696.5 1099.2 698.3 1103.1 700.2C1106.4 701.8 1114.5 703.3 1118.1 704.9C1121.4 706.3 1126 707.8 1126 709.2C1126 710.9 1122.6 712.6 1120 714.3C1117.6 715.9 1111.3 717.4 1109.6 719C1108.2 720.3 1106.8 721.5 1106.8 722.8C1106.8 724.4 1109.7 725.9 1112.5 727.5C1115.3 729.1 1122.7 730.6 1127.5 732.2C1129.6 732.9 1132.5 733.5 1133.5 734.2C1134.2 734.7 1135 735.1 1135 735.6C1135 736.1 1134.1 736.7 1133.5 737.2C1132.5 738 1131 738.9 1129.4 739.7C1126.1 741.5 1119.5 743.2 1117.2 745C1115.4 746.4 1113.4 747.7 1113.4 749.1C1113.4 750.7 1115.5 752.2 1117.2 753.8C1118.9 755.4 1123.6 756.9 1124.7 758.5C1125.3 759.4 1126 760.4 1126 761.3C1126 762.9 1122.6 764.4 1120 766C1116.3 768.2 1107.3 770.4 1103.1 772.6C1099.6 774.5 1095.2 776.3 1094.6 778.2C1094.2 779.5 1093.9 780.7 1093.9 782C1093.9 783 1096.4 784.1 1096.4 785.1C1096.4 787.1 1093.4 789.2 1091 791.2C1088.6 793.2 1082.8 795.3 1080.2 797.3C1077.6 799.3 1074.5 801.4 1074.1 803.4C1073.7 805.9 1073.8 808.4 1073.4 810.9C1073 813.8 1071.7 816.8 1070.7 819.7C1069.7 822.4 1068 825.2 1067.3 827.9C1066.3 831.5 1065.8 835.1 1065.2 838.7C1064.9 840.1 1064.7 841.6 1064.5 843L1062.7 843C1062.5 841.6 1062.3 840.1 1062 838.7C1061.4 835.1 1060.9 831.5 1059.9 827.9C1059.2 825.2 1057.5 822.4 1056.5 819.7C1055.5 816.8 1054.2 813.8 1053.8 810.9C1053.4 808.4 1053.5 805.9 1053.1 803.4C1052.7 801.4 1049.6 799.3 1047 797.3C1044.4 795.3 1038.6 793.2 1036.2 791.2C1033.8 789.2 1030.8 787.1 1030.8 785.1C1030.8 784.1 1033.3 783 1033.3 782C1033.3 780.7 1033 779.5 1032.6 778.2C1032 776.3 1027.6 774.5 1024.1 772.6C1019.9 770.4 1010.9 768.2 1007.2 766C1004.6 764.4 1001.2 762.9 1001.2 761.3C1001.2 760.4 1001.9 759.4 1002.5 758.5C1003.6 756.9 1008.3 755.4 1010 753.8C1011.7 752.2 1013.8 750.7 1013.8 749.1C1013.8 747.7 1011.8 746.4 1010 745C1007.7 743.2 1001.1 741.5 997.8 739.7C996.2 738.9 994.7 738 993.7 737.2C993.1 736.7 992.2 736.1 992.2 735.6C992.2 735.1 993 734.7 993.7 734.2C994.7 733.5 997.6 732.9 999.7 732.2C1004.5 730.6 1011.9 729.1 1014.7 727.5C1017.5 725.9 1020.4 724.4 1020.4 722.8C1020.4 721.5 1019 720.3 1017.6 719C1015.9 717.4 1009.6 715.9 1007.2 714.3C1004.6 712.6 1001.2 710.9 1001.2 709.2C1001.2 707.8 1005.8 706.3 1009.1 704.9C1012.7 703.3 1020.8 701.8 1024.1 700.2C1028 698.3 1032.1 696.5 1032.6 694.6C1033.1 692.7 1033.5 690.8 1033.5 688.9C1033.5 686.7 1033 684.6 1033 682.4C1033 680.5 1036.8 678.6 1039.2 676.7C1041.9 674.5 1046.7 672.4 1048.6 670.2C1050.8 667.7 1052.8 665.1 1053.3 662.6C1053.8 660.1 1053.7 657.6 1054.2 655.1C1054.7 652.6 1056.2 650.1 1057 647.6C1058.1 643.8 1058.9 640.1 1059.8 636.3C1060.7 632.5 1061.9 628.8 1062.3 625C1062.5 623.3 1062.6 621.7 1062.7 620Z" fill="#E23E3E" stroke="#333333" stroke-width="1.85" stroke-linejoin="round"/>
<line x1="1063.6" y1="620" x2="1063.6" y2="843" stroke="#333333" stroke-width="1.9"/>
<ellipse cx="1063.6" cy="556.4" rx="3.6" ry="3.6" fill="#333333"/>
<ellipse cx="1063.6" cy="569.5" rx="3.6" ry="3.6" fill="#333333"/>
<ellipse cx="1063.6" cy="576" rx="3.6" ry="3.6" fill="#333333"/>
<ellipse cx="1063.6" cy="582.7" rx="3.6" ry="3.6" fill="#333333"/>
<ellipse cx="1063.6" cy="589.2" rx="3.6" ry="3.6" fill="#333333"/>
<ellipse cx="1063.6" cy="595.7" rx="3.6" ry="3.6" fill="#333333"/>
<ellipse cx="1063.6" cy="602.4" rx="3.6" ry="3.6" fill="#333333"/>
<ellipse cx="1063.6" cy="608.9" rx="3.6" ry="3.6" fill="#333333"/>
<ellipse cx="1063.6" cy="615.4" rx="3.6" ry="3.6" fill="#333333"/>
<ellipse cx="1063.6" cy="621.8" rx="3.6" ry="3.6" fill="#333333"/>
<ellipse cx="1063.6" cy="846.9" rx="3.6" ry="3.6" fill="#333333"/>
<ellipse cx="1063.6" cy="853.7" rx="3.6" ry="3.6" fill="#333333"/>
<rect x="1055.6" y="709.7" width="15.9" height="50.3" fill="#fff" stroke="#333333" stroke-width="1.9"/>
<line x1="1055.2" y1="734.6" x2="1072" y2="734.6" stroke="#333333" stroke-width="3.3"/></g>
<g><line x1="1225.7" y1="530.6" x2="1225.7" y2="879.8" stroke="#333333" stroke-width="2.6" stroke-linecap="round"/>
<path d="M1226.6 597C1227.1 598.3 1227.6 599.6 1227.9 600.9C1228.9 605.1 1229.2 609.2 1230.2 613.4C1231 616.5 1232.4 619.7 1233.4 622.8C1234.2 625.4 1235.4 628 1235.7 630.6C1236.1 633.7 1236 636.9 1236.5 640C1236.9 642.6 1239 645.3 1241.2 647.9C1242.6 649.6 1245.7 651.3 1247.7 653C1249.8 654.8 1252 656.5 1253.7 658.3C1255.8 660.5 1259 662.6 1259 664.8C1259 666.7 1257.7 668.6 1257.1 670.5C1256.6 672.1 1255.6 673.6 1255.6 675.2C1255.6 677.1 1257.5 678.9 1259.3 680.8C1261.7 683.3 1268 685.8 1272.5 688.3C1275.3 689.9 1279.9 691.4 1281 693C1281.7 694 1282.3 694.9 1282.3 695.9C1282.3 697.8 1278.5 699.6 1276.3 701.5C1274.1 703.4 1269.8 705.2 1268.7 707.1C1268 708.4 1267.2 709.6 1267.2 710.9C1267.2 713.1 1271 715.3 1274.4 717.5C1277.8 719.7 1285.7 721.9 1291.3 724.1C1293.2 724.9 1295.9 725.6 1297.1 726.4C1297.8 726.9 1298.8 727.3 1298.8 727.8C1298.8 728.3 1297.6 728.9 1296.9 729.4C1295.5 730.4 1293.6 731.5 1291.3 732.5C1287.1 734.4 1279 736.3 1274.4 738.2C1269.9 740.1 1264.8 741.9 1263.1 743.8C1261.7 745.4 1260.3 746.9 1260.3 748.5C1260.3 750.4 1262.7 752.2 1264 754.1C1265 755.6 1267 757 1267 758.5C1267 760.9 1264.5 763.3 1262.2 765.7C1259.8 768.2 1251.1 770.7 1248.5 773.2C1245.7 775.9 1243.3 778.6 1242.8 781.3C1242.3 783.9 1242.4 786.6 1242 789.2C1241.5 792.3 1239.7 795.5 1238.1 798.6C1236.5 801.7 1232.9 804.9 1231.8 808C1230.7 811.1 1230.1 814.3 1229.5 817.4C1228.8 821 1228.5 824.7 1227.9 828.3C1227.5 830.9 1227.1 833.6 1226.6 836.2L1224.8 836.2C1224.3 833.6 1223.9 830.9 1223.5 828.3C1222.9 824.7 1222.6 821 1221.9 817.4C1221.3 814.3 1220.7 811.1 1219.6 808C1218.5 804.9 1214.9 801.7 1213.3 798.6C1211.7 795.5 1209.9 792.3 1209.4 789.2C1209 786.6 1209.1 783.9 1208.6 781.3C1208.1 778.6 1205.7 775.9 1202.9 773.2C1200.3 770.7 1191.6 768.2 1189.2 765.7C1186.9 763.3 1184.4 760.9 1184.4 758.5C1184.4 757 1186.4 755.6 1187.4 754.1C1188.7 752.2 1191.1 750.4 1191.1 748.5C1191.1 746.9 1189.7 745.4 1188.3 743.8C1186.6 741.9 1181.5 740.1 1177 738.2C1172.4 736.3 1164.3 734.4 1160.1 732.5C1157.8 731.5 1155.9 730.4 1154.5 729.4C1153.8 728.9 1152.6 728.3 1152.6 727.8C1152.6 727.3 1153.6 726.9 1154.3 726.4C1155.5 725.6 1158.2 724.9 1160.1 724.1C1165.7 721.9 1173.6 719.7 1177 717.5C1180.4 715.3 1184.2 713.1 1184.2 710.9C1184.2 709.6 1183.4 708.4 1182.7 707.1C1181.6 705.2 1177.3 703.4 1175.1 701.5C1172.9 699.6 1169.1 697.8 1169.1 695.9C1169.1 694.9 1169.7 694 1170.4 693C1171.5 691.4 1176.1 689.9 1178.9 688.3C1183.4 685.8 1189.7 683.3 1192.1 680.8C1193.9 678.9 1195.8 677.1 1195.8 675.2C1195.8 673.6 1194.8 672.1 1194.3 670.5C1193.7 668.6 1192.4 666.7 1192.4 664.8C1192.4 662.6 1195.6 660.5 1197.7 658.3C1199.4 656.5 1201.6 654.8 1203.7 653C1205.7 651.3 1208.8 649.6 1210.2 647.9C1212.4 645.3 1214.5 642.6 1214.9 640C1215.4 636.9 1215.3 633.7 1215.7 630.6C1216 628 1217.2 625.4 1218 622.8C1219 619.7 1220.4 616.5 1221.2 613.4C1222.2 609.2 1222.5 605.1 1223.5 600.9C1223.8 599.6 1224.3 598.3 1224.8 597Z" fill="#3BB4E7" stroke="#333333" stroke-width="1.85" stroke-linejoin="round"/>
<line x1="1225.7" y1="597" x2="1225.7" y2="836" stroke="#333333" stroke-width="1.9"/>
<ellipse cx="1225.7" cy="549.6" rx="3.6" ry="3.6" fill="#333333"/>
<ellipse cx="1225.7" cy="563.3" rx="3.6" ry="3.6" fill="#333333"/>
<ellipse cx="1225.7" cy="569.8" rx="3.6" ry="3.6" fill="#333333"/>
<ellipse cx="1225.7" cy="576.4" rx="3.6" ry="3.6" fill="#333333"/>
<ellipse cx="1225.7" cy="583" rx="3.6" ry="3.6" fill="#333333"/>
<ellipse cx="1225.7" cy="589.6" rx="3.6" ry="3.6" fill="#333333"/>
<ellipse cx="1225.7" cy="595.9" rx="3.6" ry="3.6" fill="#333333"/>
<ellipse cx="1225.7" cy="840.6" rx="3.6" ry="3.6" fill="#333333"/>
<ellipse cx="1225.7" cy="847.1" rx="3.6" ry="3.6" fill="#333333"/>
<ellipse cx="1225.7" cy="860.9" rx="3.6" ry="3.6" fill="#333333"/>
<rect x="1217.8" y="689.7" width="15.9" height="57.5" fill="#fff" stroke="#333333" stroke-width="1.9"/>
<line x1="1217.3" y1="722.2" x2="1234.1" y2="722.2" stroke="#333333" stroke-width="3.3"/></g>
<g><line x1="1387.7" y1="571.2" x2="1387.7" y2="885.5" stroke="#333333" stroke-width="2.6" stroke-linecap="round"/>
<path d="M1388.6 625C1389.2 630 1389.8 635 1390.3 640C1390.8 645.6 1391.1 651.3 1391.7 656.9C1392.1 660.7 1392.6 664.4 1393.3 668.2C1394 672 1395.1 675.7 1396 679.5C1396.9 683.3 1397.4 687 1398.6 690.8C1400 695.2 1403.2 699.5 1406.1 703.9C1409.8 709.5 1414.7 715.2 1419.3 720.8C1423.4 725.8 1428 730.9 1432.4 735.9C1436.2 740.3 1440.8 744.6 1443.7 749C1446.2 752.8 1448.8 756.5 1449.7 760.3C1450.5 763.4 1451.2 766.6 1451.2 769.7C1451.2 772.8 1450.2 776 1449.4 779.1C1448.4 782.9 1446.5 786.6 1444.2 790.4C1441.8 794.4 1438 798.3 1433.9 802.3C1430.2 805.9 1424 809.4 1420.2 813C1416.5 816.4 1413.4 819.9 1410.6 823.3C1408.1 826.4 1406.4 829.4 1403.7 832.5C1401.4 835.2 1397.6 837.8 1395.6 840.5C1393.9 842.8 1392.3 845.1 1391.6 847.4C1390.8 850.1 1390.3 852.8 1389.9 855.5C1389.3 859.7 1388.8 863.9 1388.7 868.1L1386.7 868.1C1386.6 863.9 1386.1 859.7 1385.5 855.5C1385.1 852.8 1384.6 850.1 1383.8 847.4C1383.1 845.1 1381.5 842.8 1379.8 840.5C1377.8 837.8 1374 835.2 1371.7 832.5C1369 829.4 1367.3 826.4 1364.8 823.3C1362 819.9 1358.9 816.4 1355.2 813C1351.4 809.4 1345.2 805.9 1341.5 802.3C1337.4 798.3 1333.6 794.4 1331.2 790.4C1328.9 786.6 1327 782.9 1326 779.1C1325.2 776 1324.2 772.8 1324.2 769.7C1324.2 766.6 1324.9 763.4 1325.7 760.3C1326.6 756.5 1329.2 752.8 1331.7 749C1334.6 744.6 1339.2 740.3 1343 735.9C1347.4 730.9 1352 725.8 1356.1 720.8C1360.7 715.2 1365.6 709.5 1369.3 703.9C1372.2 699.5 1375.4 695.2 1376.8 690.8C1378 687 1378.5 683.3 1379.4 679.5C1380.3 675.7 1381.4 672 1382.1 668.2C1382.8 664.4 1383.3 660.7 1383.7 656.9C1384.3 651.3 1384.6 645.6 1385.1 640C1385.6 635 1386.2 630 1386.8 625Z" fill="#96C53D" stroke="#333333" stroke-width="1.85" stroke-linejoin="round"/>
<line x1="1387.7" y1="625" x2="1387.7" y2="868" stroke="#333333" stroke-width="1.9"/>
<ellipse cx="1387.7" cy="589.2" rx="3.6" ry="3.6" fill="#333333"/>
<ellipse cx="1387.7" cy="595.8" rx="3.6" ry="3.6" fill="#333333"/>
<ellipse cx="1387.7" cy="602.4" rx="3.6" ry="3.6" fill="#333333"/>
<ellipse cx="1387.7" cy="609" rx="3.6" ry="3.6" fill="#333333"/>
<ellipse cx="1387.7" cy="615.5" rx="3.6" ry="3.6" fill="#333333"/>
<ellipse cx="1387.7" cy="622.1" rx="3.6" ry="3.6" fill="#333333"/>
<ellipse cx="1387.7" cy="628.7" rx="3.6" ry="3.6" fill="#333333"/>
<ellipse cx="1387.7" cy="635.3" rx="3.6" ry="3.6" fill="#333333"/>
<ellipse cx="1387.7" cy="641.8" rx="3.6" ry="3.6" fill="#333333"/>
<ellipse cx="1387.7" cy="648.4" rx="3.6" ry="3.6" fill="#333333"/>
<ellipse cx="1387.7" cy="655" rx="3.6" ry="3.6" fill="#333333"/>
<rect x="1379.8" y="742.5" width="15.9" height="51.1" fill="#fff" stroke="#333333" stroke-width="1.9"/>
<line x1="1379.3" y1="767.8" x2="1396.1" y2="767.8" stroke="#333333" stroke-width="3.3"/></g>
<g><line x1="1550.5" y1="516.7" x2="1550.5" y2="873.8" stroke="#333333" stroke-width="2.6" stroke-linecap="round"/>
<path d="M1551.4 610C1552 612.7 1552.5 615.3 1552.7 618C1553 621.2 1553 624.3 1553.3 627.5C1553.7 631.3 1555 635 1556.1 638.8C1557.4 643.2 1559.3 647.6 1560.8 652C1562.1 655.7 1563.3 659.5 1564.6 663.2C1565.9 667 1566.8 670.7 1568.4 674.5C1570 678.3 1572.6 682 1574.9 685.8C1577.6 690.2 1580.5 694.5 1583.4 698.9C1585.9 702.7 1588.4 706.4 1590.9 710.2C1593.4 714 1596 717.7 1598.4 721.5C1600.4 724.6 1603 727.8 1604.1 730.9C1605.2 734 1606.5 737.2 1606.5 740.3C1606.5 742.8 1605.2 745.3 1605.2 747.8C1605.2 750.3 1605.5 752.8 1605.5 755.3C1605.5 757.8 1604.8 760.4 1604.1 762.9C1603.2 766 1600.6 769.2 1598.4 772.3C1596.2 775.4 1593.5 778.6 1590.9 781.7C1588.3 784.8 1585.4 787.9 1583 791C1580.7 794 1578.7 796.9 1576.7 799.9C1573.4 804.9 1570.1 809.8 1567.2 814.8C1564.3 819.8 1561.5 824.7 1559.1 829.7C1557.1 833.8 1554.6 837.8 1553.6 841.9C1552.8 845.1 1552.1 848.2 1552 851.4L1549 851.4C1548.9 848.2 1548.2 845.1 1547.4 841.9C1546.4 837.8 1543.9 833.8 1541.9 829.7C1539.5 824.7 1536.7 819.8 1533.8 814.8C1530.9 809.8 1527.6 804.9 1524.3 799.9C1522.3 796.9 1520.3 794 1518 791C1515.6 787.9 1512.7 784.8 1510.1 781.7C1507.5 778.6 1504.8 775.4 1502.6 772.3C1500.4 769.2 1497.8 766 1496.9 762.9C1496.2 760.4 1495.5 757.8 1495.5 755.3C1495.5 752.8 1495.8 750.3 1495.8 747.8C1495.8 745.3 1494.5 742.8 1494.5 740.3C1494.5 737.2 1495.8 734 1496.9 730.9C1498 727.8 1500.6 724.6 1502.6 721.5C1505 717.7 1507.6 714 1510.1 710.2C1512.6 706.4 1515.1 702.7 1517.6 698.9C1520.5 694.5 1523.4 690.2 1526.1 685.8C1528.4 682 1531 678.3 1532.6 674.5C1534.2 670.7 1535.1 667 1536.4 663.2C1537.7 659.5 1538.9 655.7 1540.2 652C1541.7 647.6 1543.6 643.2 1544.9 638.8C1546 635 1547.3 631.3 1547.7 627.5C1548 624.3 1548 621.2 1548.3 618C1548.5 615.3 1549 612.7 1549.6 610Z" fill="#F4896B" stroke="#333333" stroke-width="1.85" stroke-linejoin="round"/>
<line x1="1550.5" y1="610" x2="1550.5" y2="851" stroke="#333333" stroke-width="1.9"/>
<ellipse cx="1550.5" cy="536.3" rx="3.6" ry="3.6" fill="#333333"/>
<ellipse cx="1550.5" cy="556.1" rx="3.6" ry="3.6" fill="#333333"/>
<ellipse cx="1550.5" cy="568.9" rx="3.6" ry="3.6" fill="#333333"/>
<rect x="1546.9" y="574.9" width="7.2" height="8.7" rx="3.6" ry="3.6" fill="#333333"/>
<rect x="1546.9" y="587.4" width="7.2" height="8.7" rx="3.6" ry="3.6" fill="#333333"/>
<ellipse cx="1550.5" cy="601.5" rx="3.6" ry="3.6" fill="#333333"/>
<ellipse cx="1550.5" cy="605" rx="3.6" ry="3.6" fill="#333333"/>
<rect x="1546.9" y="606.4" width="7.2" height="21.2" rx="3.6" ry="3.6" fill="#333333"/>
<rect x="1542.5" y="715.9" width="15.9" height="57.7" fill="#fff" stroke="#333333" stroke-width="1.9"/>
<line x1="1542.1" y1="741.2" x2="1558.9" y2="741.2" stroke="#333333" stroke-width="3.3"/></g>
<path d="M967.6 498.2V905.4M1646.4 498.2V905.4" fill="none" stroke="#000" stroke-width="4.1"/>
<path d="M965.6 500H1648.5M965.6 903.6H1648.5" fill="none" stroke="#000" stroke-width="3.6"/>
<line x1="948.6" y1="503.4" x2="966.1" y2="503.4" stroke="#333333" stroke-width="5"/>
<text class="tk" font-size="30.5" transform="translate(895.5 516.6) scale(0.943 1)">150</text>
<line x1="948.6" y1="633.4" x2="966.1" y2="633.4" stroke="#333333" stroke-width="5"/>
<text class="tk" font-size="30.5" transform="translate(895.5 644.7) scale(0.943 1)">100</text>
<line x1="948.6" y1="763.3" x2="966.1" y2="763.3" stroke="#333333" stroke-width="5"/>
<text class="tk" font-size="30.5" transform="translate(910.8 778.5) scale(0.962 1)">50</text>
<line x1="948.6" y1="893.9" x2="966.1" y2="893.9" stroke="#333333" stroke-width="5"/>
<text class="tk" font-size="30.5" transform="translate(928.4 903.2) scale(0.962 1)">0</text>
<line x1="1063.6" y1="905.1" x2="1063.6" y2="923.6" stroke="#333333" stroke-width="6"/>
<line x1="1226.1" y1="905.1" x2="1226.1" y2="923.6" stroke="#333333" stroke-width="6"/>
<line x1="1387.7" y1="905.1" x2="1387.7" y2="923.6" stroke="#333333" stroke-width="6"/>
<line x1="1550.2" y1="905.1" x2="1550.2" y2="923.6" stroke="#333333" stroke-width="6"/>
<text class="tk" font-size="30.5" transform="translate(1040.9 955.5) scale(0.956 1)">C20</text>
<text class="tk" font-size="30.5" transform="translate(1199 955.6) scale(0.956 1)">C21</text>
<text class="tk" font-size="30.5" transform="translate(1364.6 955.9) scale(0.972 1)">K20</text>
<text class="tk" font-size="30.5" transform="translate(1523.8 955.9) scale(0.972 1)">K21</text>
<text class="tt" transform="translate(876.6 801.9) rotate(-90)" textLength="208.9" lengthAdjust="spacingAndGlyphs">Ear height (cm)</text>
</g>
</svg>
</body></html>
